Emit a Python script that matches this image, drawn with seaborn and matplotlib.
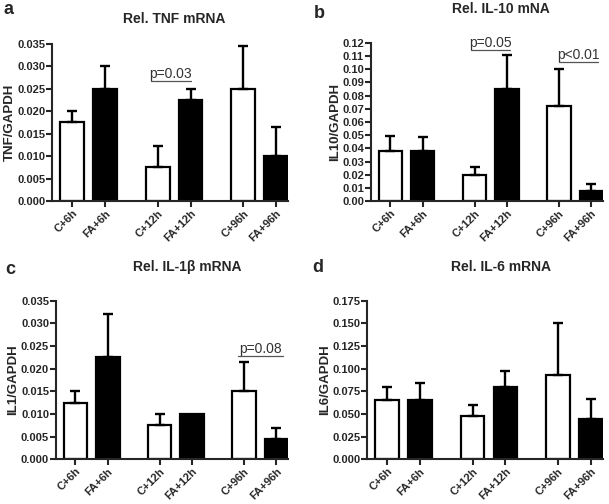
import matplotlib
matplotlib.use('Agg')
import matplotlib.pyplot as plt
import pandas as pd
import numpy as np
import seaborn as sns

# Datos
grupos = ['C+6h', 'FA+6h', 'C+12h', 'FA+12h', 'C+96h', 'FA+96h']
tratamiento = ['C', 'FA', 'C', 'FA', 'C', 'FA']
posiciones = [0, 1, 2.6, 3.6, 5.2, 6.2]

tnf_media = [0.0175, 0.025, 0.0075, 0.0225, 0.025, 0.010]
tnf_sup = [0.020, 0.030, 0.0122, 0.025, 0.0345, 0.0166]

il10_media = [0.038, 0.038, 0.020, 0.085, 0.072, 0.008]
il10_sup = [0.0495, 0.0485, 0.026, 0.111, 0.1005, 0.013]

il1_media = [0.0125, 0.0225, 0.0075, 0.010, 0.015, 0.0045]
il1_sup = [0.015, 0.032, 0.010, np.nan, 0.0215, 0.0068]

il6_media = [0.065, 0.065, 0.048, 0.080, 0.093, 0.044]
il6_sup = [0.080, 0.084, 0.060, 0.098, 0.151, 0.067]

sns.set_style('ticks')
plt.rcParams['font.family'] = ['Liberation Sans', 'DejaVu Sans']


def panel(fig, rect, media, sup, ylabel, ymax, paso, fmt, pvals):
    ax = fig.add_axes(rect)
    df = pd.DataFrame({'pos': posiciones, 'val': media, 'grp': tratamiento})
    sns.barplot(data=df, x='pos', y='val', hue='grp', dodge=False,
                palette={'C': 'white', 'FA': 'black'}, native_scale=True,
                width=0.72, edgecolor='black', linewidth=1.6, errorbar=None,
                legend=False, ax=ax)
    sup = np.array(sup, dtype=float)
    media = np.array(media)
    ok = ~np.isnan(sup)
    ax.errorbar(np.array(posiciones)[ok], media[ok],
                yerr=[np.zeros(ok.sum()), sup[ok] - media[ok]],
                fmt='none', ecolor='black', elinewidth=1.7, capsize=3.8,
                capthick=1.7, zorder=3)
    ax.set_xlim(-0.6, 6.56)
    ax.set_ylim(0, ymax)
    ticks = np.arange(0, ymax + paso / 2, paso)
    ax.set_yticks(ticks)
    ax.set_yticklabels([fmt.format(v) for v in ticks],
                       fontsize=8, fontweight='bold')
    ax.set_xticks(posiciones)
    ax.set_xticklabels(grupos, rotation=45, ha='right', rotation_mode='anchor',
                       fontsize=8, fontweight='bold')
    ax.set_xlabel('')
    ax.set_ylabel(ylabel, fontsize=9.5, fontweight='bold', labelpad=1)
    sns.despine(ax=ax)
    for s in ['left', 'bottom']:
        ax.spines[s].set_linewidth(1.5)
    ax.tick_params(width=1.5, length=4, pad=1)
    for x0, x1, y, txt in pvals:
        ax.plot([x0, x1], [y, y], color='#555555', lw=0.9, clip_on=False)
        ax.text((x0 + x1) / 2, y, txt, ha='center', va='bottom',
                fontsize=10, color='#333333')
    return ax


fig = plt.figure(figsize=(6.09, 5.04), dpi=100)

panel(fig, [0.086, 0.601, 0.387, 0.312], tnf_media, tnf_sup, 'TNF/GAPDH',
      0.035, 0.005, '{:.3f}', [(2.4, 3.6, 0.0267, 'p=0.03')])
panel(fig, [0.609, 0.601, 0.381, 0.314], il10_media, il10_sup, 'IL10/GAPDH',
      0.12, 0.01, '{:.2f}', [(2.5, 3.7, 0.1147, 'p=0.05'),
                              (5.2, 6.4, 0.1056, 'p<0.01')])
panel(fig, [0.092, 0.089, 0.381, 0.314], il1_media, il1_sup, 'IL1/GAPDH',
      0.035, 0.005, '{:.3f}', [(5.0, 6.4, 0.0228, 'p=0.08')])
panel(fig, [0.603, 0.089, 0.387, 0.314], il6_media, il6_sup, 'IL6/GAPDH',
      0.175, 0.025, '{:.3f}', [])

# Títulos y letras de panel
titulos = [(174, 19, 'Rel. TNF mRNA'), (501, 9, 'Rel. IL-10 mNA'),
           (187, 267, 'Rel. IL-1β mRNA'), (501, 267, 'Rel. IL-6 mRNA')]
for x, y, t in titulos:
    fig.text(x / 609, 1 - y / 504, t, ha='center', va='center',
             fontsize=10, fontweight='bold')
letras = [(4, 9, 'a'), (314, 13, 'b'), (5, 269, 'c'), (312, 268, 'd')]
for x, y, t in letras:
    fig.text(x / 609, 1 - y / 504, t, ha='left', va='center',
             fontsize=13, fontweight='bold')

plt.savefig('out.png', dpi=100)
plt.close(fig)
